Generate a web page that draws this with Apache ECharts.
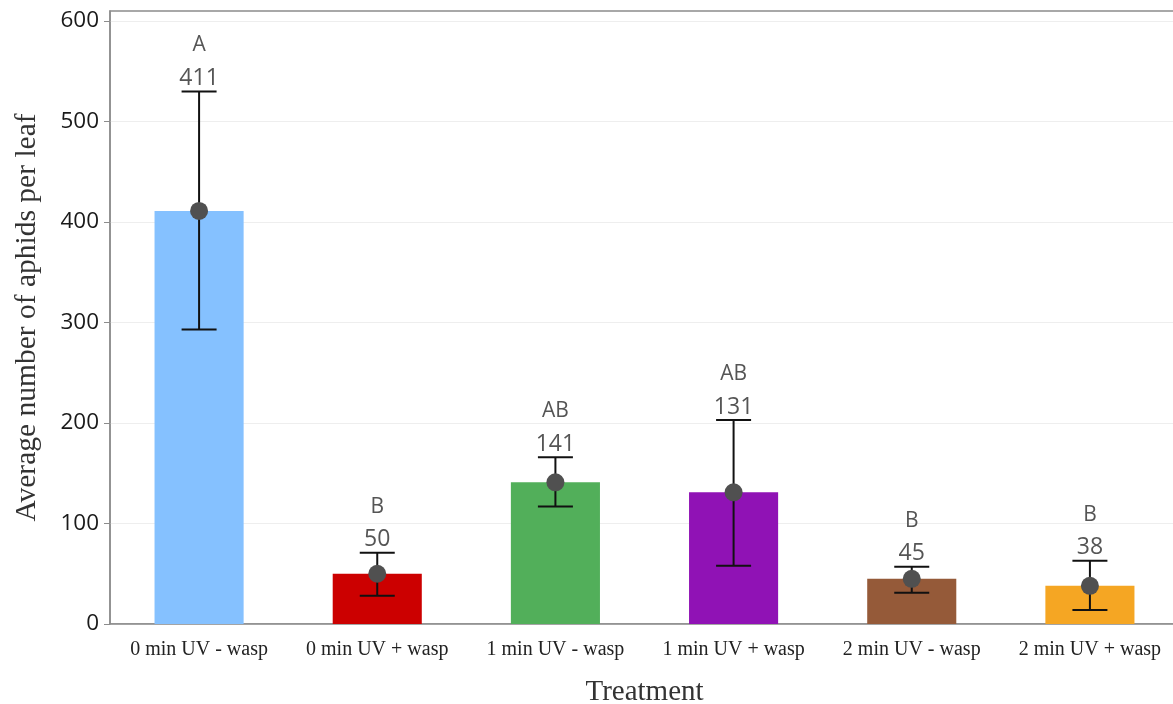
<!DOCTYPE html>
<html>
<head>
<meta charset="utf-8">
<script src="https://cdn.jsdelivr.net/npm/echarts@6/dist/echarts.min.js"></script>
<style>
  html, body { margin: 0; padding: 0; background: #fff; }
  #chart { width: 1173px; height: 704px; }
</style>
</head>
<body>
<div id="chart"></div>
<script>
// Aphid counts per leaf under UV exposure, with and without parasitoid wasps
const categories = ['0 min UV - wasp', '0 min UV + wasp', '1 min UV - wasp', '1 min UV + wasp', '2 min UV - wasp', '2 min UV + wasp'];
const means = [411, 50, 141, 131, 45, 38];
const errLow = [293, 28, 117, 58, 31, 14];
const errHigh = [530, 71, 166, 203, 57, 63];
const letters = ['A', 'B', 'AB', 'AB', 'B', 'B'];
const barColors = ['#85C1FF', '#CC0000', '#52AF5A', '#9012B5', '#955A39', '#F5A623'];
const yTicks = [0, 100, 200, 300, 400, 500, 600];

const chart = echarts.init(document.getElementById('chart'), null, { renderer: 'canvas' });

const sansFont = "'Open Sans', 'Noto Sans', sans-serif";
const serifFont = "'Liberation Serif', 'DejaVu Serif', serif";

const option = {
  animation: false,
  backgroundColor: '#ffffff',
  grid: {
    left: 110, right: -6, top: 11, bottom: 80,
    outerBoundsMode: 'none',
    containLabel: false,
    show: true, borderColor: '#8c8c8c', borderWidth: 1.5
  },
  xAxis: {
    type: 'category',
    data: categories,
    boundaryGap: true,
    name: 'Treatment',
    nameLocation: 'middle',
    nameGap: 54,
    nameTextStyle: { fontFamily: serifFont, fontSize: 29, color: '#333' },
    axisLine: { lineStyle: { color: '#8c8c8c', width: 1.5 } },
    axisTick: { alignWithLabel: true, length: 8, lineStyle: { color: '#8c8c8c' } },
    axisLabel: { interval: 0, hideOverlap: false, fontFamily: serifFont, fontSize: 20, color: '#222', margin: 16 }
  },
  yAxis: {
    type: 'value',
    min: 0, max: 610, interval: 100,
    name: 'Average number of aphids per leaf',
    nameLocation: 'middle',
    nameGap: 68,
    nameTextStyle: { fontFamily: serifFont, fontSize: 29.5, color: '#333' },
    axisLine: { show: true, lineStyle: { color: '#8c8c8c', width: 1.5 } },
    axisTick: { show: true, length: 6, customValues: yTicks, lineStyle: { color: '#8c8c8c' } },
    axisLabel: { fontFamily: sansFont, fontSize: 22.5, color: '#1a1a1a', margin: 11, customValues: yTicks },
    splitLine: { lineStyle: { color: '#eeeeee', width: 1 } }
  },
  series: [
    {
      type: 'bar',
      barWidth: '50%',
      data: means.map((v, i) => ({ value: v, itemStyle: { color: barColors[i] } })),
      z: 2
    },
    {
      type: 'custom',
      data: means.map((m, i) => [i, errLow[i], errHigh[i], m]),
      renderItem: function (params, api) {
        const i = api.value(0);
        const lo = api.coord([i, api.value(1)]);
        const hi = api.coord([i, api.value(2)]);
        const half = 17.5;
        const stroke = { stroke: '#111', lineWidth: 2 };
        return {
          type: 'group',
          children: [
            {
              type: 'text', x: hi[0], y: hi[1] - 13,
              style: { text: String(api.value(3)), fontFamily: sansFont, fontSize: 23, fill: '#555', align: 'center', verticalAlign: 'middle' }
            },
            {
              type: 'text', x: hi[0], y: hi[1] - 46,
              style: { text: letters[i], fontFamily: sansFont, fontSize: 21, fill: '#555', align: 'center', verticalAlign: 'middle' }
            },
            { type: 'line', shape: { x1: hi[0], y1: hi[1], x2: lo[0], y2: lo[1] }, style: stroke },
            { type: 'line', shape: { x1: hi[0] - half, y1: hi[1], x2: hi[0] + half, y2: hi[1] }, style: stroke },
            { type: 'line', shape: { x1: lo[0] - half, y1: lo[1], x2: lo[0] + half, y2: lo[1] }, style: stroke }
          ]
        };
      },
      z: 3
    },
    {
      type: 'scatter',
      data: means.map((v, i) => [i, v]),
      symbol: 'circle',
      symbolSize: 18,
      itemStyle: { color: '#505050', opacity: 1 },
      z: 4
    }
  ]
};

chart.setOption(option);
</script>
</body>
</html>
